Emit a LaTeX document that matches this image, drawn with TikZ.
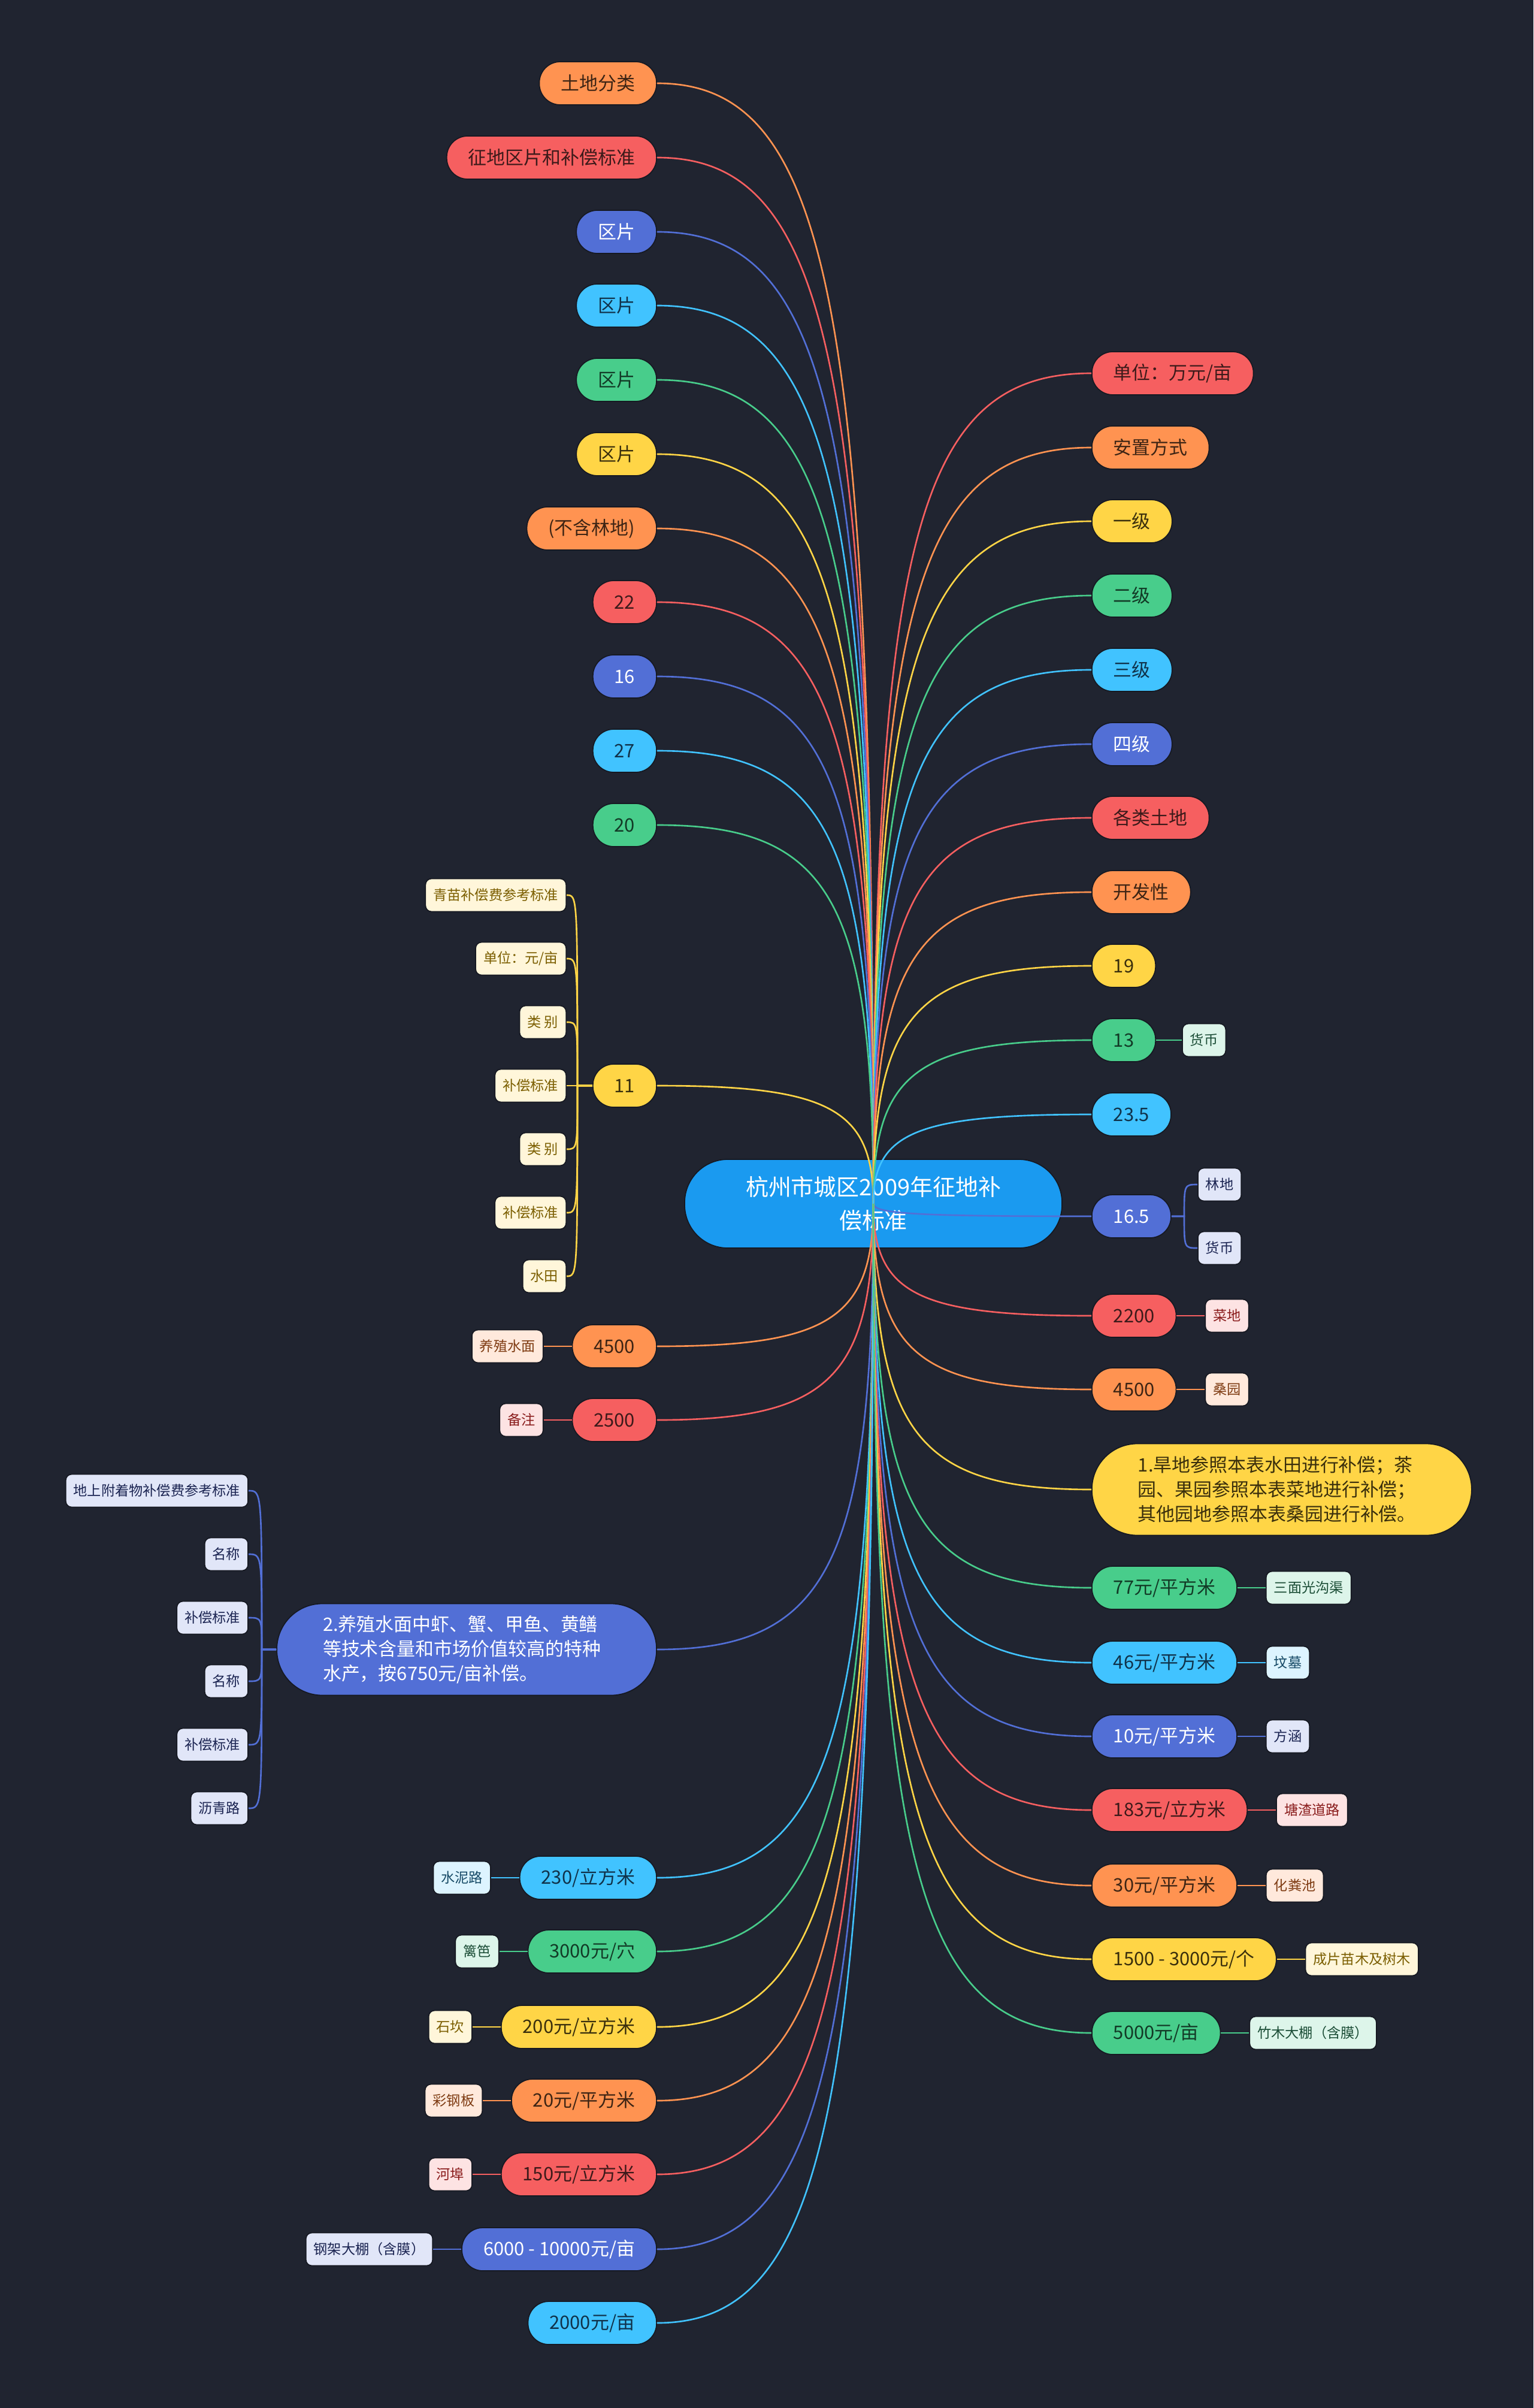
\documentclass[tikz,border=0pt]{standalone}
\usepackage{fontspec}
\setmainfont{Noto Sans CJK SC}
\usetikzlibrary{calc,positioning}
\definecolor{bg}{HTML}{202430}
\definecolor{nodeline}{HTML}{161922}
\definecolor{cO}{HTML}{FF9351}
\definecolor{cR}{HTML}{F65F60}
\definecolor{cB}{HTML}{526FD6}
\definecolor{cC}{HTML}{41C3FF}
\definecolor{cG}{HTML}{48CD8B}
\definecolor{cY}{HTML}{FFD546}
\definecolor{cM}{HTML}{1A9AF0}
\definecolor{tO}{HTML}{3D2414}
\definecolor{tR}{HTML}{3D1A1A}
\definecolor{tY}{HTML}{3A2F0C}
\definecolor{tG}{HTML}{123A26}
\definecolor{tC}{HTML}{10324A}
\definecolor{lfO}{HTML}{FFE9DC}
\definecolor{lfR}{HTML}{FDE3E3}
\definecolor{lfB}{HTML}{E1E6F8}
\definecolor{lfC}{HTML}{DDF4FF}
\definecolor{lfG}{HTML}{DDF5EA}
\definecolor{lfY}{HTML}{FFF6DA}
\definecolor{ltO}{HTML}{7E3B12}
\definecolor{ltR}{HTML}{8A1C1C}
\definecolor{ltB}{HTML}{1B2452}
\definecolor{ltC}{HTML}{174A66}
\definecolor{ltG}{HTML}{1B4D36}
\definecolor{ltY}{HTML}{7B5E00}
\newcommand\mnfont{\fontsize{8.8}{11.7}\selectfont}
\newcommand\lffont{\fontsize{6.6}{8}\selectfont}
\newcommand\ctfont{\fontsize{10.8}{15.9}\selectfont}
\tikzset{
  nbase/.style={draw=nodeline, line width=0.5pt},
  main/.style={nbase, rounded corners=0.35cm, minimum height=0.72cm, inner xsep=0.36cm, inner ysep=0pt, font=\mnfont},
  mO/.style={main, fill=cO, text=tO},
  mR/.style={main, fill=cR, text=tR},
  mB/.style={main, fill=cB, text=white},
  mC/.style={main, fill=cC, text=tC},
  mG/.style={main, fill=cG, text=tG},
  mY/.style={main, fill=cY, text=tY},
  bignode/.style={text width=4.8cm, align=left, rounded corners=0.76cm, minimum height=1.53cm, inner xsep=0.77cm},
  leaf/.style={nbase, rounded corners=0.1cm, minimum height=0.55cm, inner xsep=0.13cm, inner ysep=0pt, font=\lffont},
  lO/.style={leaf, fill=lfO, text=ltO},
  lR/.style={leaf, fill=lfR, text=ltR},
  lB/.style={leaf, fill=lfB, text=ltB},
  lC/.style={leaf, fill=lfC, text=ltC},
  lG/.style={leaf, fill=lfG, text=ltG},
  lY/.style={leaf, fill=lfY, text=ltY},
  eO/.style={draw=cO, line width=0.75pt},
  eR/.style={draw=cR, line width=0.75pt},
  eB/.style={draw=cB, line width=0.75pt},
  eC/.style={draw=cC, line width=0.75pt},
  eG/.style={draw=cG, line width=0.75pt},
  eY/.style={draw=cY, line width=0.75pt},
}
% connector from centre to a node anchor
\newcommand\cbr[2]{\draw[#1] (ctr.center) .. controls ($(ctr.center)!0.8!(ctr.center|-#2)$) and ($(#2)!0.8!(ctr.center|-#2)$) .. (#2);}
% brace connectors
\newcommand\brl[4]{\draw[#1] (#2.west) -- (#3) .. controls (#3|-#4.east) .. (#4.east);}
\newcommand\brr[4]{\draw[#1] (#2.east) -- (#3) .. controls (#3|-#4.west) .. (#4.west);}
\begin{document}
\begin{tikzpicture}
\useasboundingbox (0,0) rectangle (25.6,-40.19);
\fill[bg] (0,0) rectangle (25.6,-40.19);

% centre
\node[nbase, fill=cM, text=white, rounded corners=0.72cm, minimum width=6.3cm, minimum height=1.48cm, text width=5.2cm, align=center, font=\ctfont, inner sep=0pt] (ctr) at (14.58,-20.09) {杭州市城区2009年征地补\\偿标准};

% left main nodes
\node[mO, anchor=east] (L1) at (10.97,-1.39) {土地分类};
\node[mR, anchor=east] (L2) at (10.97,-2.63) {征地区片和补偿标准};
\node[mB, anchor=east] (L3) at (10.97,-3.87) {区片};
\node[mC, anchor=east] (L4) at (10.97,-5.10) {区片};
\node[mG, anchor=east] (L5) at (10.97,-6.34) {区片};
\node[mY, anchor=east] (L6) at (10.97,-7.58) {区片};
\node[mO, anchor=east] (L7) at (10.97,-8.82) {(不含林地)};
\node[mR, anchor=east] (L8) at (10.97,-10.05) {22};
\node[mB, anchor=east] (L9) at (10.97,-11.29) {16};
\node[mC, anchor=east] (L10) at (10.97,-12.53) {27};
\node[mG, anchor=east] (L11) at (10.97,-13.77) {20};
\node[mY, anchor=east] (L12) at (10.97,-18.12) {11};
\node[mO, anchor=east] (L13) at (10.97,-22.47) {4500};
\node[mR, anchor=east] (L14) at (10.97,-23.70) {2500};
\node[mB, bignode, anchor=east] (L15) at (10.97,-27.53) {2.养殖水面中虾、蟹、甲鱼、黄鳝\\等技术含量和市场价值较高的特种\\水产，按6750元/亩补偿。};
\node[mC, anchor=east] (L16) at (10.97,-31.34) {230/立方米};
\node[mG, anchor=east] (L17) at (10.97,-32.57) {3000元/穴};
\node[mY, anchor=east] (L18) at (10.97,-33.83) {200元/立方米};
\node[mO, anchor=east] (L19) at (10.97,-35.06) {20元/平方米};
\node[mR, anchor=east] (L20) at (10.97,-36.29) {150元/立方米};
\node[mB, anchor=east] (L21) at (10.97,-37.54) {6000 - 10000元/亩};
\node[mC, anchor=east] (L22) at (10.97,-38.77) {2000元/亩};

% right main nodes
\node[mR, anchor=west] (R1) at (18.22,-6.23) {单位：万元/亩};
\node[mO, anchor=west] (R2) at (18.22,-7.47) {安置方式};
\node[mY, anchor=west] (R3) at (18.22,-8.70) {一级};
\node[mG, anchor=west] (R4) at (18.22,-9.94) {二级};
\node[mC, anchor=west] (R5) at (18.22,-11.18) {三级};
\node[mB, anchor=west] (R6) at (18.22,-12.42) {四级};
\node[mR, anchor=west] (R7) at (18.22,-13.65) {各类土地};
\node[mO, anchor=west] (R8) at (18.22,-14.89) {开发性};
\node[mY, anchor=west] (R9) at (18.22,-16.12) {19};
\node[mG, anchor=west] (R10) at (18.22,-17.36) {13};
\node[mC, anchor=west] (R11) at (18.22,-18.60) {23.5};
\node[mB, anchor=west] (R12) at (18.22,-20.30) {16.5};
\node[mR, anchor=west] (R13) at (18.22,-21.96) {2200};
\node[mO, anchor=west] (R14) at (18.22,-23.19) {4500};
\node[mY, bignode, anchor=west] (R15) at (18.22,-24.86) {1.旱地参照本表水田进行补偿；茶\\园、果园参照本表菜地进行补偿；\\其他园地参照本表桑园进行补偿。};
\node[mG, anchor=west] (R16) at (18.22,-26.50) {77元/平方米};
\node[mC, anchor=west] (R17) at (18.22,-27.75) {46元/平方米};
\node[mB, anchor=west] (R18) at (18.22,-28.98) {10元/平方米};
\node[mR, anchor=west] (R19) at (18.22,-30.21) {183元/立方米};
\node[mO, anchor=west] (R20) at (18.22,-31.47) {30元/平方米};
\node[mY, anchor=west] (R21) at (18.22,-32.70) {1500 - 3000元/个};
\node[mG, anchor=west] (R22) at (18.22,-33.93) {5000元/亩};

% children of 11
\node[lY, anchor=east] (a1) at (9.46,-14.94) {青苗补偿费参考标准};
\node[lY, anchor=east] (a2) at (9.46,-16.00) {单位：元/亩};
\node[lY, anchor=east] (a3) at (9.46,-17.06) {类 别};
\node[lY, anchor=east] (a4) at (9.46,-18.12) {补偿标准};
\node[lY, anchor=east] (a5) at (9.46,-19.18) {类 别};
\node[lY, anchor=east] (a6) at (9.46,-20.24) {补偿标准};
\node[lY, anchor=east] (a7) at (9.46,-21.30) {水田};
\coordinate (j12) at (9.64,-18.12);

% children of 2.
\node[lB, anchor=east] (b1) at (4.15,-24.88) {地上附着物补偿费参考标准};
\node[lB, anchor=east] (b2) at (4.15,-25.94) {名称};
\node[lB, anchor=east] (b3) at (4.15,-27.00) {补偿标准};
\node[lB, anchor=east] (b4) at (4.15,-28.06) {名称};
\node[lB, anchor=east] (b5) at (4.15,-29.12) {补偿标准};
\node[lB, anchor=east] (b6) at (4.15,-30.18) {沥青路};
\coordinate (j15) at (4.37,-27.53);

% children of 16.5
\node[lB, anchor=west] (c1) at (19.99,-19.77) {林地};
\node[lB, anchor=west] (c2) at (19.99,-20.83) {货币};
\coordinate (jr12) at (19.77,-20.30);

% single leaves, left
\node[lO, left=0.47cm of L13] (k13) {养殖水面};
\node[lR, left=0.47cm of L14] (k14) {备注};
\node[lC, left=0.47cm of L16] (k16) {水泥路};
\node[lG, left=0.47cm of L17] (k17) {篱笆};
\node[lY, left=0.47cm of L18] (k18) {石坎};
\node[lO, left=0.47cm of L19] (k19) {彩钢板};
\node[lR, left=0.47cm of L20] (k20) {河埠};
\node[lB, left=0.47cm of L21] (k21) {钢架大棚（含膜）};

% single leaves, right
\node[lG, right=0.43cm of R10] (q10) {货币};
\node[lR, right=0.47cm of R13] (q13) {菜地};
\node[lO, right=0.47cm of R14] (q14) {桑园};
\node[lG, right=0.47cm of R16] (q16) {三面光沟渠};
\node[lC, right=0.47cm of R17] (q17) {坟墓};
\node[lB, right=0.47cm of R18] (q18) {方涵};
\node[lR, right=0.47cm of R19] (q19) {塘渣道路};
\node[lO, right=0.47cm of R20] (q20) {化粪池};
\node[lY, right=0.47cm of R21] (q21) {成片苗木及树木};
\node[lG, right=0.47cm of R22] (q22) {竹木大棚（含膜）};

% connectors from centre, left
\cbr{eO}{L1.east}
\cbr{eR}{L2.east}
\cbr{eB}{L3.east}
\cbr{eC}{L4.east}
\cbr{eG}{L5.east}
\cbr{eY}{L6.east}
\cbr{eO}{L7.east}
\cbr{eR}{L8.east}
\cbr{eB}{L9.east}
\cbr{eC}{L10.east}
\cbr{eG}{L11.east}
\cbr{eY}{L12.east}
\cbr{eO}{L13.east}
\cbr{eR}{L14.east}
\cbr{eB}{L15.east}
\cbr{eC}{L16.east}
\cbr{eG}{L17.east}
\cbr{eY}{L18.east}
\cbr{eO}{L19.east}
\cbr{eR}{L20.east}
\cbr{eB}{L21.east}
\cbr{eC}{L22.east}
% connectors from centre, right
\cbr{eR}{R1.west}
\cbr{eO}{R2.west}
\cbr{eY}{R3.west}
\cbr{eG}{R4.west}
\cbr{eC}{R5.west}
\cbr{eB}{R6.west}
\cbr{eR}{R7.west}
\cbr{eO}{R8.west}
\cbr{eY}{R9.west}
\cbr{eG}{R10.west}
\cbr{eC}{R11.west}
\cbr{eB}{R12.west}
\cbr{eR}{R13.west}
\cbr{eO}{R14.west}
\cbr{eY}{R15.west}
\cbr{eG}{R16.west}
\cbr{eC}{R17.west}
\cbr{eB}{R18.west}
\cbr{eR}{R19.west}
\cbr{eO}{R20.west}
\cbr{eY}{R21.west}
\cbr{eG}{R22.west}

% braces
\brl{eY}{L12}{j12}{a1}
\brl{eY}{L12}{j12}{a2}
\brl{eY}{L12}{j12}{a3}
\brl{eY}{L12}{j12}{a4}
\brl{eY}{L12}{j12}{a5}
\brl{eY}{L12}{j12}{a6}
\brl{eY}{L12}{j12}{a7}
\brl{eB}{L15}{j15}{b1}
\brl{eB}{L15}{j15}{b2}
\brl{eB}{L15}{j15}{b3}
\brl{eB}{L15}{j15}{b4}
\brl{eB}{L15}{j15}{b5}
\brl{eB}{L15}{j15}{b6}
\brr{eB}{R12}{jr12}{c1}
\brr{eB}{R12}{jr12}{c2}

% single leaf connectors
\draw[eO] (L13.west) -- (k13.east);
\draw[eR] (L14.west) -- (k14.east);
\draw[eC] (L16.west) -- (k16.east);
\draw[eG] (L17.west) -- (k17.east);
\draw[eY] (L18.west) -- (k18.east);
\draw[eO] (L19.west) -- (k19.east);
\draw[eR] (L20.west) -- (k20.east);
\draw[eB] (L21.west) -- (k21.east);
\draw[eG] (R10.east) -- (q10.west);
\draw[eR] (R13.east) -- (q13.west);
\draw[eO] (R14.east) -- (q14.west);
\draw[eG] (R16.east) -- (q16.west);
\draw[eC] (R17.east) -- (q17.west);
\draw[eB] (R18.east) -- (q18.west);
\draw[eR] (R19.east) -- (q19.west);
\draw[eO] (R20.east) -- (q20.west);
\draw[eY] (R21.east) -- (q21.west);
\draw[eG] (R22.east) -- (q22.west);
\end{tikzpicture}
\end{document}
